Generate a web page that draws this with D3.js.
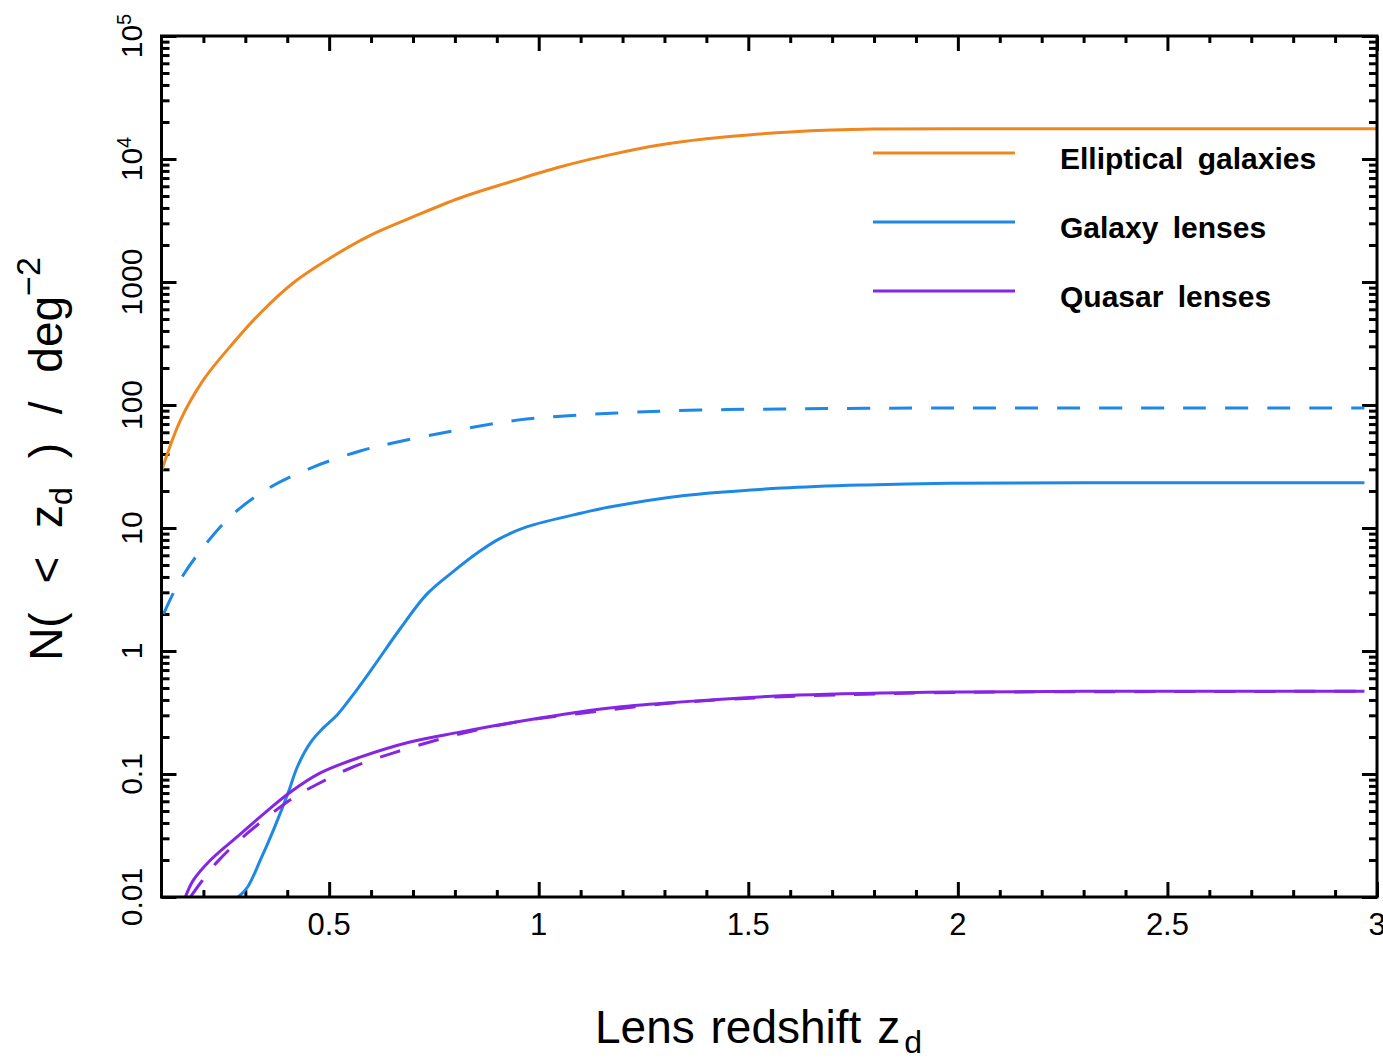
<!DOCTYPE html>
<html>
<head>
<meta charset="utf-8">
<script src="https://cdn.jsdelivr.net/npm/d3@7"></script>
<style>
  body { margin: 0; background: #fff; }
  text { font-family: "Liberation Sans", Arial, sans-serif; fill: #000; }
</style>
</head>
<body>
<div id="chart-area"></div>
<script>
// cumulative lens counts N(<z_d) per deg^2
const ellipticalZ = [0.1, 0.145, 0.2, 0.271, 0.336, 0.414, 0.495, 0.59, 0.7, 0.812, 0.931, 1.05, 1.169, 1.288, 1.4, 1.5, 1.6, 1.7, 1.8, 2.0, 2.5, 3.0];
const ellipticalN = [29, 75, 160, 319, 560, 982, 1510, 2320, 3380, 4820, 6500, 8610, 10800, 13000, 14600, 15700, 16600, 17200, 17500, 17600, 17600, 17600];

const galaxyDashZ = [0.105, 0.145, 0.2, 0.269, 0.352, 0.462, 0.574, 0.652, 0.757, 0.86, 0.971, 1.186, 1.383, 1.58, 1.78, 2.0, 2.5, 2.97];
const galaxyDashN = [2.0, 3.8, 7.0, 12.8, 20.7, 31.3, 42.3, 49.1, 58.1, 67.5, 76.9, 86.1, 91, 92.7, 94, 94.5, 94.5, 94.5];

const galaxyZ = [0.283, 0.305, 0.336, 0.367, 0.402, 0.424, 0.455, 0.486, 0.519, 0.557, 0.605, 0.669, 0.733, 0.795, 0.86, 0.907, 0.971, 1.105, 1.169, 1.343, 1.581, 1.781, 1.979, 2.5, 2.97];
const galaxyN = [0.01, 0.012, 0.02, 0.035, 0.07, 0.114, 0.179, 0.237, 0.302, 0.44, 0.74, 1.51, 2.9, 4.4, 6.5, 8.2, 10.2, 13.3, 14.8, 18.3, 21.1, 22.4, 23.1, 23.3, 23.3];

const quasarZ = [0.157, 0.176, 0.217, 0.281, 0.336, 0.407, 0.479, 0.574, 0.693, 0.812, 0.931, 1.05, 1.169, 1.305, 1.621, 2.0, 2.5, 2.97];
const quasarN = [0.01, 0.0137, 0.02, 0.031, 0.045, 0.071, 0.102, 0.137, 0.182, 0.219, 0.26, 0.302, 0.344, 0.378, 0.438, 0.465, 0.47, 0.47];

const quasarDashZ = [0.169, 0.193, 0.233, 0.305, 0.414, 0.467, 0.557, 0.652, 0.757, 0.852, 0.948, 1.05, 1.145, 1.248, 1.352, 1.62, 2.0, 2.5, 2.97];
const quasarDashN = [0.01, 0.013, 0.0193, 0.033, 0.064, 0.081, 0.114, 0.148, 0.189, 0.228, 0.265, 0.297, 0.325, 0.357, 0.385, 0.43, 0.46, 0.468, 0.47];

const xMajor = [0.5, 1, 1.5, 2, 2.5, 3];
const xMajorLabels = ["0.5", "1", "1.5", "2", "2.5", "3"];
const yMajor = [0.01, 0.1, 1, 10, 100, 1000, 1e4, 1e5];
const yMajorLabels = ["0.01", "0.1", "1", "10", "100", "1000", "10^4", "10^5"];

const legendNames = ["Elliptical galaxies", "Galaxy lenses", "Quasar lenses"];

const orange = "#f0871e", blue = "#1e88e6", purple = "#8526e4";

const series = [
    {z: ellipticalZ, n: ellipticalN, color: orange, dash: null},
    {z: galaxyDashZ, n: galaxyDashN, color: blue, dash: "23,19"},
    {z: galaxyZ, n: galaxyN, color: blue, dash: null},
    {z: quasarDashZ, n: quasarDashN, color: purple, dash: "21,19"},
    {z: quasarZ, n: quasarN, color: purple, dash: null}
];

const width = 1383, height = 1062;
const plotLeft = 161.5, plotRight = 1377, plotTop = 36, plotBottom = 897;

const x = d3.scaleLinear().domain([0.1, 3]).range([plotLeft, plotRight]);
const y = d3.scaleLog().domain([0.01, 1e5]).range([plotBottom, plotTop]);

const svg = d3.select("#chart-area").append("svg")
    .attr("width", width)
    .attr("height", height)
    .style("background", "#fff");

svg.append("clipPath").attr("id", "plotclip")
  .append("rect")
    .attr("x", plotLeft).attr("y", plotTop)
    .attr("width", plotRight - plotLeft).attr("height", plotBottom - plotTop);

// minor x ticks (every 0.1)
const xMinor = d3.range(2, 30).map(i => i / 10).filter(v => Math.abs(v * 2 - Math.round(v * 2)) > 1e-6);
// minor y ticks (2..9 x each decade)
const yMinor = [];
for (let e = -2; e < 5; e++) {
    for (let m = 2; m <= 9; m++) yMinor.push(m * Math.pow(10, e));
}

function tickAxis(axisFn, scale, values, size, transform) {
    const g = svg.append("g")
        .attr("transform", transform)
        .call(axisFn(scale).tickValues(values).tickSize(size).tickFormat(""));
    g.select(".domain").remove();
    g.selectAll("line").attr("stroke", "#000").attr("stroke-width", 3);
    return g;
}

tickAxis(d3.axisBottom, x, xMajor, -15, `translate(0,${plotBottom})`);
tickAxis(d3.axisBottom, x, xMinor, -7, `translate(0,${plotBottom})`);
tickAxis(d3.axisTop, x, xMajor, -15, `translate(0,${plotTop})`);
tickAxis(d3.axisTop, x, xMinor, -7, `translate(0,${plotTop})`);
tickAxis(d3.axisLeft, y, yMajor, -15, `translate(${plotLeft},0)`);
tickAxis(d3.axisLeft, y, yMinor, -8, `translate(${plotLeft},0)`);
tickAxis(d3.axisRight, y, yMajor, -15, `translate(${plotRight},0)`);
tickAxis(d3.axisRight, y, yMinor, -8, `translate(${plotRight},0)`);

// x tick labels
svg.append("g").selectAll("text")
    .data(xMajor)
    .enter().append("text")
    .attr("x", d => x(d))
    .attr("y", 935)
    .attr("text-anchor", "middle")
    .attr("font-size", "31px")
    .text((d, i) => xMajorLabels[i]);

// y tick labels, rotated
const yl = svg.append("g").selectAll("text")
    .data(yMajor)
    .enter().append("text")
    .attr("transform", d => `translate(142,${y(d)}) rotate(-90)`)
    .attr("text-anchor", "middle")
    .attr("font-size", "30px");
yl.each(function (d, i) {
    const lab = yMajorLabels[i];
    const t = d3.select(this);
    if (lab.indexOf("^") >= 0) {
        const parts = lab.split("^");
        t.append("tspan").text(parts[0]);
        t.append("tspan").attr("font-size", "20px").attr("dy", -11).text(parts[1]);
    } else {
        t.text(lab);
    }
});

// curves
const line = d3.line()
    .x(d => x(d[0]))
    .y(d => y(d[1]))
    .curve(d3.curveCatmullRom.alpha(0.5));

svg.append("g").attr("clip-path", "url(#plotclip)")
  .selectAll("path")
    .data(series)
    .enter().append("path")
    .attr("d", s => line(s.z.map((z, i) => [z, s.n[i]])))
    .attr("fill", "none")
    .attr("stroke", s => s.color)
    .attr("stroke-width", 3)
    .attr("stroke-dasharray", s => s.dash);

// frame
svg.append("rect")
    .attr("x", plotLeft).attr("y", plotTop)
    .attr("width", plotRight - plotLeft).attr("height", plotBottom - plotTop)
    .attr("fill", "none")
    .attr("stroke", "#000")
    .attr("stroke-width", 3);

// legend
const legendColors = [orange, blue, purple];
const lg = svg.append("g").selectAll("g")
    .data(legendNames)
    .enter().append("g")
    .attr("transform", (d, i) => `translate(0,${153 + i * 69})`);
lg.append("line")
    .attr("x1", 873).attr("x2", 1015)
    .attr("stroke", (d, i) => legendColors[i])
    .attr("stroke-width", 3);
lg.append("text")
    .attr("x", 1060)
    .attr("y", 16)
    .attr("font-size", "30px")
    .attr("font-weight", "bold")
    .attr("word-spacing", "6px")
    .text(d => d);

// axis titles
const xt = svg.append("text")
    .attr("x", 595)
    .attr("y", 1043)
    .attr("font-size", "46px")
    .attr("word-spacing", "3px");
xt.append("tspan").text("Lens redshift z");
xt.append("tspan").attr("font-size", "32px").attr("dx", 4).attr("dy", 10).text("d");

const yt = svg.append("text")
    .attr("transform", "translate(62,459) rotate(-90)")
    .attr("text-anchor", "middle")
    .attr("font-size", "46px")
    .attr("word-spacing", "16px");
yt.append("tspan").text("N( < z");
yt.append("tspan").attr("font-size", "32px").attr("dy", 10).text("d");
yt.append("tspan").attr("dy", -10).text(" ) / deg");
yt.append("tspan").attr("font-size", "34px").attr("dy", -22).text("\u22122");
</script>
</body>
</html>
